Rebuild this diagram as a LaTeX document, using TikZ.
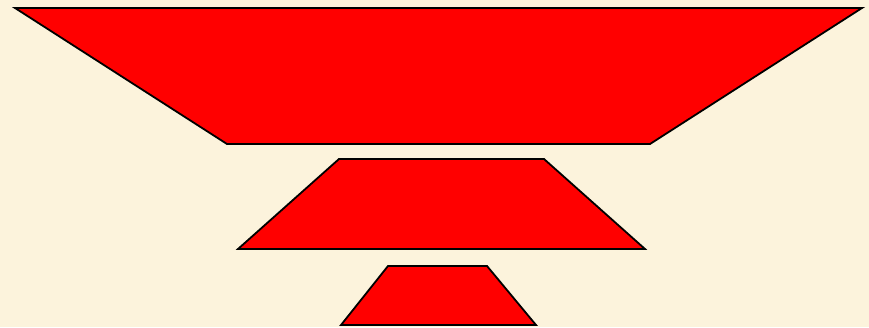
\documentclass[tikz,border=0pt]{standalone}
\definecolor{bg}{HTML}{FCF3DC}
\tikzset{redtrap/.style={fill=red, draw=black, line width=1.8pt, line join=miter}}
\begin{document}
\begin{tikzpicture}[x=1pt,y=-1pt]
\fill[bg] (0,0) rectangle (869,327);
\useasboundingbox (0,0) rectangle (869,327);
\draw[redtrap] (15,8) -- (862,8) -- (650,144) -- (227,144) -- cycle;
\draw[redtrap] (339,159) -- (544,159) -- (645,249) -- (238,249) -- cycle;
\draw[redtrap] (388,266) -- (487,266) -- (536,325) -- (341,325) -- cycle;
\end{tikzpicture}
\end{document}
